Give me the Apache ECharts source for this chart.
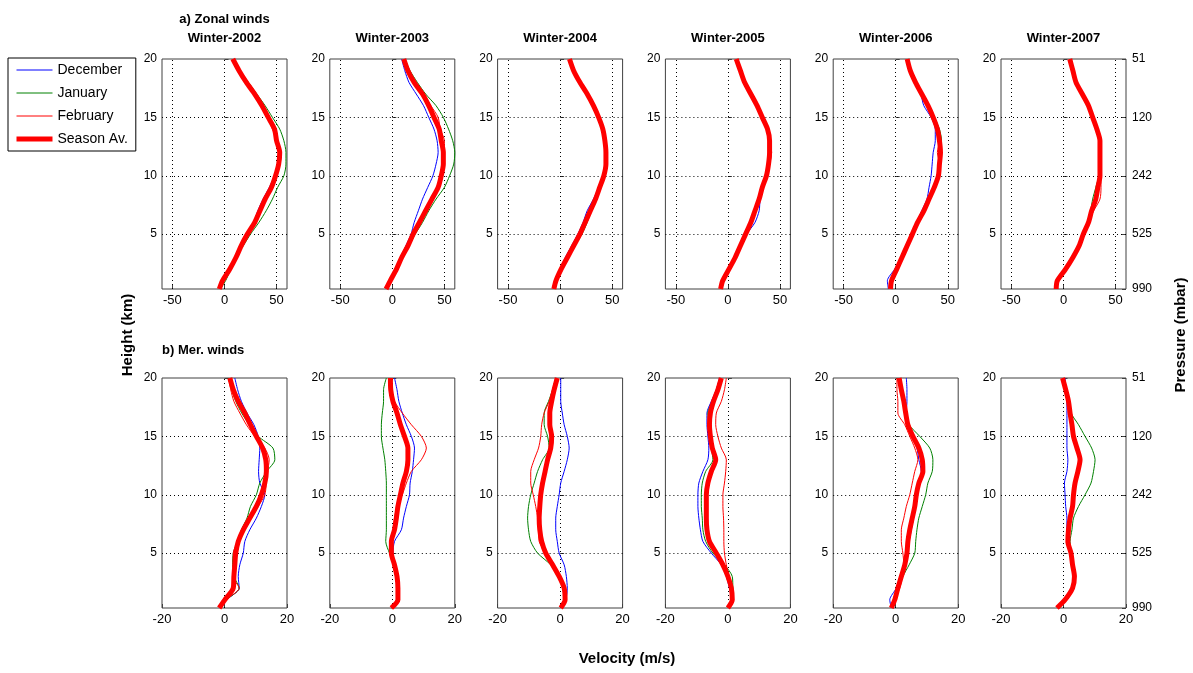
<!DOCTYPE html>
<html>
<head>
<meta charset="utf-8">
<script src="https://cdn.jsdelivr.net/npm/echarts@6/dist/echarts.min.js"></script>
<style>
  html, body { margin: 0; padding: 0; background: #fff; }
  #main { width: 1193px; height: 673px; }
</style>
</head>
<body>
<div id="main"></div>
<script>
// heights (km) of every profile point, bottom to top
const heights = [0.3, 1, 2, 3, 4, 5, 6, 7, 8, 9, 10, 11, 12, 13, 14, 15, 16, 17, 18, 19, 20];
const winters = ['Winter-2002', 'Winter-2003', 'Winter-2004', 'Winter-2005', 'Winter-2006', 'Winter-2007'];
const monthNames = ['December', 'January', 'February', 'Season Av.'];

// a) zonal winds (m/s), one list per winter
const zonalDec = [
  [-5, -1, 5, 11, 16, 22, 28, 32, 37, 43, 48, 51, 52, 51, 48, 43, 36, 29, 21, 14, 8],
  [-6, -1, 3, 8, 13, 18, 21, 25, 29, 34, 39, 42, 44, 43, 40, 35, 30, 23, 16, 12, 9],
  [-5, -3, 0, 5, 11, 17, 22, 26, 32, 37, 41, 44, 44, 43, 41, 37, 32, 26, 19, 13, 9],
  [-7, -5, 1, 7, 12, 18, 26, 30, 31, 34, 37, 39, 41, 40, 38, 33, 28, 22, 16, 12, 8],
  [-7, -8, -1, 5, 10, 15, 20, 25, 30, 32, 34, 35, 36, 38, 38, 34, 27, 24, 18, 14, 11],
  [-7, -6, 2, 9, 15, 19, 24, 27, 31, 33, 35, 35, 35, 35, 32, 28, 24, 18, 12, 9, 6]
];
const zonalJan = [
  [-4, 1, 6, 11, 18, 25, 33, 40, 46, 51, 57, 59, 59, 57, 53, 46, 39, 31, 23, 15, 9],
  [-6, -1, 5, 10, 16, 22, 29, 35, 42, 50, 55, 59, 60, 58, 54, 49, 42, 32, 24, 17, 12],
  [-6, -4, 2, 8, 14, 21, 26, 30, 35, 39, 42, 44, 44, 43, 41, 37, 32, 26, 19, 13, 9],
  [-7, -5, 1, 7, 12, 17, 22, 26, 30, 33, 37, 39, 40, 40, 38, 33, 28, 22, 16, 12, 8],
  [-5, -3, 1, 6, 11, 16, 22, 28, 33, 38, 42, 43, 44, 44, 42, 37, 32, 26, 20, 14, 11],
  [-7, -6, 2, 9, 15, 19, 23, 26, 28, 31, 34, 35, 35, 35, 32, 28, 24, 18, 12, 9, 6]
];
const zonalFeb = [
  [-5, -2, 5, 11, 16, 22, 28, 33, 39, 45, 49, 51, 53, 50, 46, 41, 35, 28, 20, 13, 7],
  [-6, -2, 4, 9, 15, 20, 26, 32, 38, 45, 48, 50, 50, 50, 46, 44, 37, 30, 22, 16, 11],
  [-6, -4, 1, 7, 13, 19, 24, 29, 34, 38, 42, 44, 44, 43, 41, 37, 32, 26, 19, 13, 9],
  [-7, -5, 1, 7, 12, 17, 22, 26, 30, 33, 36, 40, 42, 40, 37, 33, 28, 22, 16, 12, 8],
  [-5, -4, 1, 6, 11, 16, 21, 27, 32, 37, 41, 42, 40, 42, 40, 36, 31, 25, 19, 14, 11],
  [-7, -6, 2, 9, 15, 19, 24, 29, 35, 36, 36, 35, 35, 35, 32, 28, 24, 18, 12, 9, 6]
];
const zonalAvg = [
  [-5, -2, 5, 11, 16, 22, 29, 34, 39, 45, 49, 52, 53, 50, 48, 42, 36, 29, 21, 14, 8],
  [-6, -2, 4, 9, 15, 20, 26, 32, 38, 44, 47, 49, 49, 47, 45, 40, 35, 29, 21, 15, 11],
  [-6, -4, 1, 7, 13, 19, 24, 29, 34, 38, 42, 44, 44, 43, 41, 37, 32, 26, 19, 13, 9],
  [-7, -5, 1, 7, 12, 17, 22, 26, 30, 33, 37, 39, 40, 40, 38, 33, 28, 22, 16, 12, 8],
  [-5, -4, 1, 6, 11, 16, 21, 27, 32, 37, 41, 42, 43, 42, 40, 36, 31, 25, 19, 14, 11],
  [-7, -6, 2, 9, 15, 19, 24, 27, 31, 33, 35, 35, 35, 35, 32, 28, 24, 18, 12, 9, 6]
];

// b) meridional winds (m/s), one list per winter
const merDec = [
  [-1.7, 0.6, 4.7, 4.4, 4.9, 6, 6.5, 8.1, 10.2, 11.8, 12.9, 11.3, 10.9, 11.1, 11.3, 10.8, 9.4, 7.2, 5.4, 4.2, 3.3],
  [-0.3, 1.3, 1.5, 1.3, 0.7, 0.2, 0.7, 2.9, 3.6, 4.5, 5.5, 5.7, 6.4, 6.8, 7.1, 6.1, 4.5, 3.2, 2.1, 1.5, 0.7],
  [0.2, 1.8, 2.3, 2, 1.3, -0.3, -0.9, -1.4, -1.4, -0.9, -0.3, 0.2, 1.3, 2.3, 2.9, 2.3, 1.3, 0.7, 0.2, 0.2, 0.2],
  [0, 1.6, 0.5, -0.5, -2.1, -5.3, -8, -8.8, -9.3, -9.6, -9.6, -9.3, -8, -6.4, -6.1, -6.4, -6.7, -6.7, -5.3, -3.7, -2.7],
  [-1.4, -1.9, 0.2, 1.5, 2.6, 3.6, 4.3, 5, 5.7, 6.4, 6.8, 7.7, 8.2, 7.4, 6.8, 5.3, 3.9, 3.4, 3.6, 3.6, 3.4],
  [-2.1, 0.5, 2.9, 3.5, 2.9, 2.4, 1.4, 1.1, 1.1, 0.7, 0.5, 0.3, 1.1, 1.4, 1.1, 1.1, 1.1, 1.1, 1.1, 0.8, 0.5]
];
const merJan = [
  [-1.7, 0.6, 4.7, 3, 2.6, 2.8, 4.1, 5.4, 7.2, 8.3, 10.2, 11.3, 13.5, 16.1, 15.5, 10.8, 7.9, 5.5, 3.6, 2.3, 1.2],
  [-0.3, 2.3, 1.8, 1.5, 0.7, -0.9, -2.1, -1.9, -1.9, -1.9, -1.9, -1.9, -2.1, -2.4, -3, -3.5, -3.5, -3.2, -2.8, -2.8, -1.9],
  [0.2, 1.8, 1.3, -0.3, -3, -7.2, -9.4, -10.1, -10.4, -10.1, -9.4, -8.3, -7.2, -5.6, -3.5, -4, -5.1, -5.1, -3.7, -2.4, -1.4],
  [0, 1.8, 1.6, 1.4, -1.1, -4.8, -7.1, -8, -8.2, -8.5, -8.5, -8.2, -7.1, -4.8, -5.3, -5.9, -6.1, -6.4, -5, -3.7, -2.5],
  [-1.4, -0.3, 1.1, 2.3, 4.3, 6.1, 6.4, 6.8, 7.4, 8.5, 9.6, 10.3, 11.7, 11.9, 10.9, 7.7, 4.3, 3.4, 2.3, 1.8, 1.3],
  [-2.1, 0.5, 2.9, 3.5, 2.9, 2.4, 2.1, 2.7, 3.2, 4.8, 6.9, 8.8, 9.6, 10.1, 9, 6.9, 4.8, 2.4, 1.8, 0.7, -0.3]
];
const merFeb = [
  [-1.7, 0.4, 4.7, 2.6, 2.8, 2.8, 4.4, 6.5, 8.6, 10.8, 12.9, 13.4, 13.8, 14.3, 12.9, 9.7, 7, 4.9, 3, 2, 1.4],
  [-0.3, 1.8, 1.8, 1.1, 0.2, -0.3, -0.3, 0.2, 0.7, 1.5, 3.2, 4.5, 6.1, 9.3, 10.9, 9.3, 6.1, 3.2, 0.7, -0.3, -0.6],
  [0.2, 2, 1.6, -0.3, -1.9, -4.6, -6.7, -6.9, -7.2, -7.8, -8.6, -9.4, -9.4, -8.3, -6.9, -6.2, -5.9, -5.1, -3.5, -2.4, -1.4],
  [0, 1.8, 1.1, 0.3, -0.5, -1.1, -1.3, -1.3, -1.4, -1.6, -1.6, -1.1, -0.7, -0.5, -2.1, -3.2, -3.9, -3.7, -2.1, -1.1, -0.5],
  [-1.4, -0.3, 1.3, 2.1, 2.6, 2.3, 1.8, 1.8, 2.6, 3.4, 4.5, 5.3, 6.1, 7.1, 6.1, 4.5, 2.9, 0.7, 0.7, 0.4, 0.4],
  [-2.1, 0.5, 2.9, 3.5, 2.9, 2.4, 1.4, 1.6, 2.1, 2.9, 3.4, 3.5, 4.4, 4.8, 4.3, 3.2, 2.7, 2.1, 1.6, 0.7, -0.3]
];
const merAvg = [
  [-1.7, 0.1, 2.8, 3, 3.3, 3.6, 4.4, 6, 8.1, 10.2, 11.8, 12.9, 13.4, 13.2, 12.2, 10.2, 8.3, 6.5, 4.4, 2.8, 1.7],
  [-0.3, 1.8, 1.8, 1.5, 0.7, -0.3, -0.3, 0.7, 1.3, 1.8, 2.6, 3.4, 4.5, 5, 5, 3.9, 2.6, 1.5, 0.2, -0.5, -0.6],
  [0.2, 1.6, 1.3, -0.3, -2.4, -4.6, -5.9, -6.5, -6.7, -6.5, -6.2, -5.6, -4.8, -4, -3, -2.7, -3.3, -3.3, -2.7, -1.9, -0.9],
  [0, 1.4, 1.1, 0, -1.6, -3.7, -5.9, -6.7, -6.9, -6.9, -6.9, -6.4, -5.3, -3.9, -5, -5.6, -5.9, -5.6, -4.6, -3.2, -2.1],
  [-1.4, -0.3, 0.7, 1.8, 2.9, 3.6, 3.9, 4.5, 5.3, 6.1, 6.6, 7.4, 8.7, 8.5, 7.4, 5.5, 3.9, 3.2, 2.6, 1.8, 1.1],
  [-2.1, 0.5, 2.9, 3.5, 2.9, 2.4, 1.4, 1.6, 2.1, 2.9, 3.2, 3.7, 4.6, 5.3, 4.3, 3.2, 2.7, 2.1, 1.6, 0.7, -0.3]
];

// axis ticks
const heightTicks = [5, 10, 15, 20];
const zonalTicks = [-50, 0, 50];
const merTicks = [-20, 0, 20];
const pressureAt = [0.3, 5, 10, 15, 20];
const pressureLabels = ['990', '525', '242', '120', '51'];

const FONT = '"Liberation Sans", Arial, sans-serif';
const colors = ['#0000ff', '#008000', '#ff0000', '#ff0000'];
const widths = [1, 1, 1, 5];

const chart = echarts.init(document.getElementById('main'));

const grid = [], xAxis = [], yAxis = [], series = [];
const rows = [
  { top: 59, min: -60, max: 60, ticks: zonalTicks, data: [zonalDec, zonalJan, zonalFeb, zonalAvg] },
  { top: 378, min: -20, max: 20, ticks: merTicks, data: [merDec, merJan, merFeb, merAvg] }
];

rows.forEach((row, r) => {
  for (let c = 0; c < 6; c++) {
    const gi = r * 6 + c;
    grid.push({
      left: 162 + c * 167.8, top: row.top, width: 125, height: 230,
      show: true, borderColor: '#404040', borderWidth: 1
    });
    xAxis.push({
      gridIndex: gi, type: 'value', min: row.min, max: row.max,
      axisLine: { show: false },
      splitLine: { show: false },
      axisTick: { inside: true, length: 4, customValues: row.ticks, lineStyle: { color: '#404040' } },
      axisLabel: { customValues: row.ticks, color: '#000', fontSize: 13, fontFamily: FONT, margin: 5 }
    });
    const yi = yAxis.length;
    yAxis.push({
      gridIndex: gi, type: 'value', min: 0.3, max: 20,
      axisLine: { show: false },
      splitLine: { show: false },
      axisTick: { inside: true, length: 4, customValues: heightTicks, lineStyle: { color: '#404040' } },
      axisLabel: { customValues: heightTicks, color: '#000', fontSize: 12, fontFamily: FONT, margin: 5 }
    });
    if (c === 5) {
      // pressure scale on the right of the last column
      yAxis.push({
        gridIndex: gi, type: 'value', min: 0.3, max: 20, position: 'right',
        axisLine: { show: false },
        splitLine: { show: false },
        axisTick: { inside: true, length: 4, customValues: pressureAt, lineStyle: { color: '#404040' } },
        axisLabel: {
          customValues: pressureAt, color: '#000', fontSize: 12, fontFamily: FONT, margin: 6,
          formatter: v => pressureLabels[pressureAt.indexOf(v)] || ''
        }
      });
    }
    // dotted grid lines
    const gridLines = row.ticks.filter(t => t > row.min && t < row.max).map(t => ({ xAxis: t }))
      .concat([5, 10, 15].map(h => ({ yAxis: h })));

    row.data.forEach((set, m) => {
      const values = set[c];
      series.push({
        name: monthNames[m],
        type: 'line',
        xAxisIndex: gi,
        yAxisIndex: yi,
        data: heights.map((h, i) => [values[i], h]),
        symbol: 'none',
        smooth: 0.25,
        z: m === 3 ? 4 : 3,
        color: colors[m],
        lineStyle: { width: widths[m], color: colors[m] },
        animation: false,
        markLine: m === 0 ? {
          silent: true, symbol: ['none', 'none'], z: 1, animation: false,
          label: { show: false },
          lineStyle: { type: [1, 3], color: '#000', width: 1 },
          data: gridLines
        } : undefined
      });
    });
  }
});

const title = winters.map((w, c) => ({
  text: c === 0 ? 'a) Zonal winds\n' + w : w,
  left: 224.5 + c * 167.8, top: c === 0 ? 10 : 29,
  textAlign: 'center', padding: 0,
  textStyle: { fontSize: 13, fontWeight: 'bold', color: '#000', fontFamily: FONT, lineHeight: 19 }
}));
title.push({
  text: 'b) Mer. winds', left: 162, top: 344, padding: 0,
  textStyle: { fontSize: 13, fontWeight: 'bold', color: '#000', fontFamily: FONT }
});
title.push({
  text: 'Velocity (m/s)', left: 627, top: 651, textAlign: 'center', padding: 0,
  textStyle: { fontSize: 15, fontWeight: 'bold', color: '#000', fontFamily: FONT }
});

chart.setOption({
  backgroundColor: '#fff',
  animation: false,
  title: title,
  legend: {
    data: monthNames.map((n, m) => ({ name: n, lineStyle: { width: widths[m] } })),
    orient: 'vertical',
    left: 8, top: 58,
    itemWidth: 36, itemHeight: 12, itemGap: 9,
    padding: [5, 8, 5, 6],
    borderColor: '#000', borderWidth: 1,
    selectedMode: false,
    itemStyle: { opacity: 0 },
    textStyle: { fontSize: 14, color: '#000', fontFamily: FONT }
  },
  graphic: [
    {
      type: 'text', x: 128, y: 335, rotation: Math.PI / 2,
      style: { text: 'Height (km)', align: 'center', verticalAlign: 'middle', font: 'bold 15px ' + FONT, fill: '#000' }
    },
    {
      type: 'text', x: 1181, y: 335, rotation: Math.PI / 2,
      style: { text: 'Pressure (mbar)', align: 'center', verticalAlign: 'middle', font: 'bold 15px ' + FONT, fill: '#000' }
    }
  ],
  grid: grid,
  xAxis: xAxis,
  yAxis: yAxis,
  series: series
});
</script>
</body>
</html>
